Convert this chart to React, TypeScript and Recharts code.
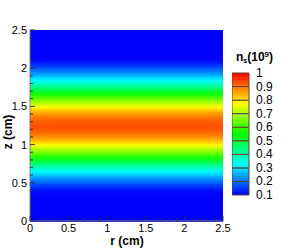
import { ComposedChart, XAxis, YAxis, ReferenceArea } from 'recharts';

// z positions (cm) of the sampled rows and the density read at each row (units of 10^9)
const Z_ROWS = [
  0, 0.05, 0.1, 0.15, 0.2, 0.25, 0.3, 0.35, 0.4, 0.45, 0.5, 0.55, 0.6, 0.65, 0.7, 0.75, 0.8, 0.85, 0.9, 0.95,
  1, 1.05, 1.1, 1.15, 1.2, 1.25, 1.3, 1.35, 1.4, 1.45, 1.5, 1.55, 1.6, 1.65, 1.7, 1.75, 1.8, 1.85, 1.9, 1.95,
  2, 2.05, 2.1, 2.15, 2.2, 2.25, 2.3, 2.35, 2.4, 2.45, 2.5,
];
const NS_ROWS = [
  0.01, 0.01, 0.02, 0.03, 0.04, 0.05, 0.06, 0.08, 0.11, 0.14, 0.18, 0.22, 0.27, 0.32, 0.38, 0.44, 0.51, 0.58, 0.65, 0.71,
  0.77, 0.83, 0.87, 0.9, 0.92, 0.93, 0.92, 0.9, 0.87, 0.83, 0.77, 0.71, 0.65, 0.58, 0.51, 0.44, 0.38, 0.32, 0.27, 0.22,
  0.18, 0.14, 0.11, 0.08, 0.06, 0.05, 0.04, 0.03, 0.02, 0.01, 0.01,
];

const R_DOMAIN = [0, 2.5];
const Z_DOMAIN = [0, 2.5];
const AXIS_TICKS = [
  0, 0.1, 0.2, 0.3, 0.4, 0.5, 0.6, 0.7, 0.8, 0.9, 1, 1.1, 1.2, 1.3, 1.4, 1.5, 1.6, 1.7, 1.8, 1.9, 2, 2.1, 2.2, 2.3, 2.4, 2.5,
];
const LEVELS = [0.1, 0.2, 0.3, 0.4, 0.5, 0.6, 0.7, 0.8, 0.9, 1];

const FONT = '"Liberation Sans", Arial, sans-serif';
const FRAME = '#808080';
const TICK = '#333';

// tecplot-like rainbow: blue -> cyan -> green -> yellow -> red over 0.1..1
const KNOTS = [
  [0, 0, 255],
  [0, 255, 255],
  [0, 255, 0],
  [255, 255, 0],
  [255, 0, 0],
];
function cmap(v: number) {
  let t = (v - 0.1) / 0.9;
  t = Math.max(0, Math.min(1, t));
  const s = t * 4;
  const i = Math.min(3, Math.floor(s));
  const f = s - i;
  const a = KNOTS[i];
  const b = KNOTS[i + 1];
  const c = a.map((x, k) => Math.round(x + (b[k] - x) * f));
  return `rgb(${c[0]},${c[1]},${c[2]})`;
}

const isMajor = (v: number) => Math.abs(v * 2 - Math.round(v * 2)) < 1e-6;

const BottomTick = (props: any) => {
  const { x, y, payload } = props;
  const major = isMajor(payload.value);
  return (
    <g>
      <line x1={x} y1={y} x2={x} y2={y - (major ? 5 : 3)} stroke={TICK} />
      {major && (
        <text x={x} y={y + 11} textAnchor="middle" fontSize={11} fontFamily={FONT} fill="#000">
          {payload.value}
        </text>
      )}
    </g>
  );
};

const TopTick = (props: any) => {
  const { x, y, payload } = props;
  const major = isMajor(payload.value);
  return <line x1={x} y1={y} x2={x} y2={y + (major ? 5 : 3)} stroke={TICK} />;
};

const LeftTick = (props: any) => {
  const { x, y, payload } = props;
  const major = isMajor(payload.value);
  return (
    <g>
      <line x1={x} y1={y} x2={x + (major ? 5 : 3)} y2={y} stroke={TICK} />
      {major && (
        <text x={x - 3} y={y + 4} textAnchor="end" fontSize={11} fontFamily={FONT} fill="#000">
          {payload.value}
        </text>
      )}
    </g>
  );
};

const RightTick = (props: any) => {
  const { x, y, payload } = props;
  const major = isMajor(payload.value);
  return <line x1={x} y1={y} x2={x - (major ? 5 : 3)} y2={y} stroke={TICK} />;
};

const LevelTick = (props: any) => {
  const { x, y, payload } = props;
  return (
    <text x={x} y={y + 4} textAnchor="start" fontSize={12} fontFamily={FONT} fill="#000">
      {payload.value}
    </text>
  );
};

const BandShape = (props: any) => {
  const { x, y, width, height, fill } = props;
  return <rect x={x} y={y} width={width} height={height + 1} fill={fill} />;
};

export default function App() {
  const bands = Z_ROWS.slice(0, -1).map((z, i) => ({ z1: z, z2: Z_ROWS[i + 1], v1: NS_ROWS[i], v2: NS_ROWS[i + 1] }));
  const levelBands = LEVELS.slice(0, -1).map((l, i) => ({ l1: l, l2: LEVELS[i + 1] }));

  return (
    <div style={{ position: 'absolute', left: 0, top: 0, width: 282, height: 250, background: '#fff', fontFamily: FONT }}>
      <svg width={0} height={0} style={{ position: 'absolute' }}>
        <defs>
          {bands.map((b, i) => (
            <linearGradient key={i} id={`hb${i}`} x1="0" y1="0" x2="0" y2="1">
              <stop offset="0" stopColor={cmap(b.v2)} />
              <stop offset="1" stopColor={cmap(b.v1)} />
            </linearGradient>
          ))}
          {levelBands.map((b, i) => (
            <linearGradient key={i} id={`cb${i}`} x1="0" y1="0" x2="0" y2="1">
              {[0, 0.25, 0.5, 0.75, 1].map((o) => (
                <stop key={o} offset={o} stopColor={cmap(b.l2 - (b.l2 - b.l1) * o)} />
              ))}
            </linearGradient>
          ))}
        </defs>
      </svg>

      <ComposedChart width={282} height={250} margin={{ top: 30, right: 59, bottom: 0, left: 0 }}>
        {bands.map((b, i) => (
          <ReferenceArea
            key={i}
            x1={R_DOMAIN[0]}
            x2={R_DOMAIN[1]}
            y1={b.z1}
            y2={b.z2}
            fill={`url(#hb${i})`}
            fillOpacity={1}
            stroke="none"
            shape={BandShape}
            ifOverflow="hidden"
          />
        ))}
        <XAxis
          type="number"
          dataKey="r"
          domain={R_DOMAIN}
          ticks={AXIS_TICKS}
          interval={0}
          allowDataOverflow
          height={29}
          tickSize={0}
          tickMargin={0}
          tickLine={false}
          tick={BottomTick}
          axisLine={{ stroke: FRAME }}
        />
        <XAxis
          xAxisId="top"
          orientation="top"
          type="number"
          domain={R_DOMAIN}
          ticks={AXIS_TICKS}
          interval={0}
          allowDataOverflow
          height={0}
          tickSize={0}
          tickMargin={0}
          tickLine={false}
          tick={TopTick}
          axisLine={{ stroke: FRAME }}
        />
        <YAxis
          type="number"
          dataKey="z"
          domain={Z_DOMAIN}
          ticks={AXIS_TICKS}
          interval={0}
          allowDataOverflow
          width={30}
          tickSize={0}
          tickMargin={0}
          tickLine={false}
          tick={LeftTick}
          axisLine={{ stroke: FRAME }}
        />
        <YAxis
          yAxisId="right"
          orientation="right"
          type="number"
          domain={Z_DOMAIN}
          ticks={AXIS_TICKS}
          interval={0}
          allowDataOverflow
          width={0}
          tickSize={0}
          tickMargin={0}
          tickLine={false}
          tick={RightTick}
          axisLine={{ stroke: FRAME }}
        />
      </ComposedChart>

      <div
        style={{
          position: 'absolute', left: -12, top: 125, width: 40, height: 14, lineHeight: '14px',
          textAlign: 'center', transform: 'rotate(-90deg)', fontSize: 12, fontWeight: 'bold',
        }}
      >
        z (cm)
      </div>
      <div
        style={{
          position: 'absolute', left: 97, top: 234, width: 60, height: 14, lineHeight: '14px',
          textAlign: 'center', fontSize: 12, fontWeight: 'bold',
        }}
      >
        r (cm)
      </div>

      <div
        style={{
          position: 'absolute', left: 236, top: 51, width: 46, height: 13, lineHeight: '13px',
          fontSize: 12, fontWeight: 'bold', whiteSpace: 'nowrap',
        }}
      >
        n<span style={{ fontSize: 7, position: 'relative', top: 2 }}>s</span>(10
        <span style={{ fontSize: 8, position: 'relative', top: -4 }}>9</span>)
      </div>

      <div style={{ position: 'absolute', left: 232, top: 67 }}>
        <ComposedChart width={50} height={134} margin={{ top: 6, right: 0, bottom: 6, left: 0 }}>
          {levelBands.map((b, i) => (
            <ReferenceArea
              key={i}
              x1={0}
              x2={1}
              y1={b.l1}
              y2={b.l2}
              fill={`url(#cb${i})`}
              fillOpacity={1}
              stroke="#5a4632"
              strokeWidth={1}
              ifOverflow="visible"
            />
          ))}
          <XAxis type="number" dataKey="x" domain={[0, 1]} allowDataOverflow hide />
          <YAxis
            type="number"
            dataKey="v"
            orientation="right"
            domain={[0.1, 1]}
            ticks={LEVELS}
            interval={0}
            allowDataOverflow
            width={33}
            tickSize={0}
            tickMargin={7}
            tickLine={false}
            axisLine={false}
            tick={LevelTick}
          />
        </ComposedChart>
      </div>
    </div>
  );
}
